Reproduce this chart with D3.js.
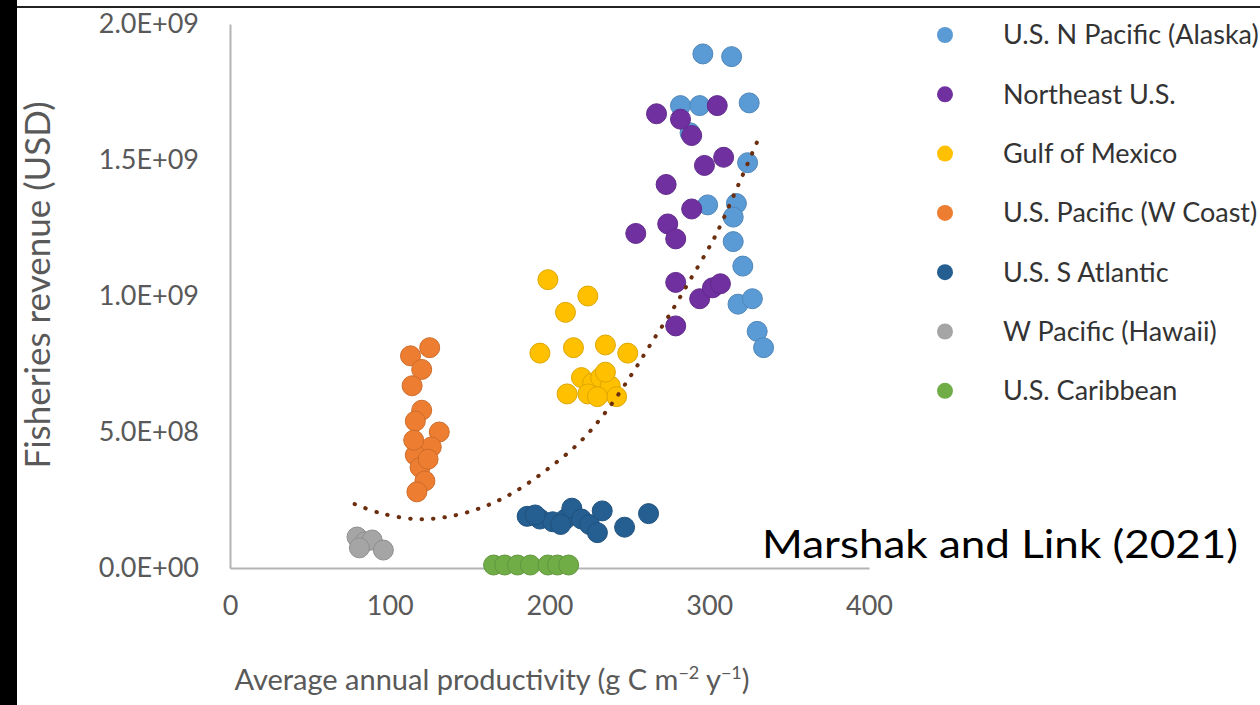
<!DOCTYPE html>
<html>
<head>
<meta charset="utf-8">
<script src="https://cdn.jsdelivr.net/npm/d3@7"></script>
<style>
  html, body { margin: 0; padding: 0; background: #fff; overflow: hidden; }
  svg { display: block; font-family: Lato, "Open Sans", sans-serif; }
</style>
</head>
<body>
<svg id="chart" width="1260" height="705"></svg>
<script>
// region names + colours (legend order)
var regions = ["U.S. N Pacific (Alaska)", "Northeast U.S.", "Gulf of Mexico",
               "U.S. Pacific (W Coast)", "U.S. S Atlantic", "W Pacific (Hawaii)", "U.S. Caribbean"];
var colors = ["#5b9bd5", "#7030a0", "#ffc000", "#ed7d31", "#255e91", "#a5a5a5", "#70ad47"];

// productivity (g C m-2 y-1) and revenue (1e9 USD)
var alaskaX = [296, 314, 282, 294, 325, 288, 324, 299, 317, 315, 315, 321, 318, 327, 330, 334];
var alaskaY = [1.89, 1.88, 1.70, 1.70, 1.71, 1.60, 1.49, 1.335, 1.34, 1.29, 1.20, 1.11, 0.97, 0.99, 0.87, 0.81];
var northeastX = [267, 282, 289, 305, 309, 297, 273, 289, 254, 274, 279, 279, 294, 302, 307, 279];
var northeastY = [1.67, 1.65, 1.59, 1.70, 1.51, 1.48, 1.41, 1.32, 1.23, 1.265, 1.21, 1.05, 0.99, 1.03, 1.045, 0.89];
var gulfX = [199, 224, 210, 194, 215, 235, 249, 211, 220, 227, 232, 238, 242, 224, 235, 230];
var gulfY = [1.06, 1.00, 0.94, 0.79, 0.81, 0.82, 0.79, 0.64, 0.70, 0.68, 0.70, 0.67, 0.63, 0.64, 0.72, 0.63];
var westCoastX = [125, 113, 120, 114, 120, 116, 131, 126, 116, 119, 122, 117, 115, 124];
var westCoastY = [0.81, 0.78, 0.73, 0.67, 0.58, 0.54, 0.50, 0.445, 0.415, 0.37, 0.32, 0.28, 0.47, 0.40];
var sAtlanticX = [186, 194, 202, 210, 214, 220, 225, 230, 233, 247, 262, 191, 207];
var sAtlanticY = [0.19, 0.18, 0.17, 0.18, 0.22, 0.18, 0.16, 0.13, 0.21, 0.15, 0.20, 0.195, 0.16];
var hawaiiX = [79.5, 84.5, 89, 96, 81];
var hawaiiY = [0.114, 0.096, 0.103, 0.066, 0.074];
var caribbeanX = [165, 172, 180, 188, 199, 205, 212];
var caribbeanY = [0.011, 0.011, 0.011, 0.011, 0.011, 0.011, 0.011];

// dotted polynomial trend line
var trendX = [78, 94, 116, 136, 157, 177, 198, 219, 236, 252, 263, 277, 288, 299, 305, 319, 330.5];
var trendY = [0.235, 0.202, 0.18, 0.188, 0.221, 0.276, 0.36, 0.463, 0.58, 0.717, 0.82, 0.949, 1.059, 1.169, 1.235, 1.419, 1.574];

var xTicks = [0, 100, 200, 300, 400];
var yTicks = [0, 0.5, 1.0, 1.5, 2.0];

var seriesX = [alaskaX, northeastX, gulfX, westCoastX, sAtlanticX, hawaiiX, caribbeanX];
var seriesY = [alaskaY, northeastY, gulfY, westCoastY, sAtlanticY, hawaiiY, caribbeanY];

var svg = d3.select("#chart");

// page frame: black bar on the left, line on top
svg.append("rect").attr("x", 0).attr("y", 0).attr("width", 17).attr("height", 705).attr("fill", "#000");
svg.append("rect").attr("x", 17).attr("y", 6).attr("width", 1243).attr("height", 2).attr("fill", "#222");

var x = d3.scaleLinear().domain([0, 400]).range([230, 869]);
var y = d3.scaleLinear().domain([0, 2.0]).range([568, 24]);

function sci(v) {
  var n = v * 1e9;
  if (n == 0) { return "0.0E+00"; }
  var e = Math.floor(Math.log10(n));
  var m = n / Math.pow(10, e);
  return m.toFixed(1) + "E+" + String(e).padStart(2, "0");
}

var yAxis = svg.append("g").attr("transform", "translate(230,0)")
  .call(d3.axisLeft(y).tickValues(yTicks).tickFormat(sci).tickSize(0).tickPadding(31));
var xAxis = svg.append("g").attr("transform", "translate(0,568)")
  .call(d3.axisBottom(x).tickValues(xTicks).tickFormat(d3.format("d")).tickSize(0).tickPadding(28));

[yAxis, xAxis].forEach(function (a) {
  a.select(".domain").attr("stroke", "#b4b4b4").attr("stroke-width", 2);
  a.selectAll("text").attr("font-family", "Lato, sans-serif").attr("font-size", 27).attr("fill", "#595959");
});

// axis titles
svg.append("text")
  .attr("transform", "translate(50,285) rotate(-90)")
  .attr("text-anchor", "middle")
  .attr("font-size", 35).attr("fill", "#595959")
  .text("Fisheries revenue (USD)");

var xt = svg.append("text")
  .attr("x", 492).attr("y", 690)
  .attr("text-anchor", "middle")
  .attr("font-size", 29).attr("fill", "#595959");
xt.append("tspan").text("Average annual productivity (g C m");
xt.append("tspan").attr("dy", -11).attr("font-size", 18).text("\u22122");
xt.append("tspan").attr("dy", 11).text(" y");
xt.append("tspan").attr("dy", -11).attr("font-size", 18).text("\u22121");
xt.append("tspan").attr("dy", 11).text(")");

// scatter points
var pts = svg.append("g");
seriesX.forEach(function (xs, i) {
  var rows = xs.map(function (v, j) { return [v, seriesY[i][j]]; });
  pts.append("g").selectAll("circle").data(rows).enter().append("circle")
    .attr("cx", function (d) { return x(d[0]); })
    .attr("cy", function (d) { return y(d[1]); })
    .attr("r", 10)
    .attr("fill", colors[i])
    .attr("stroke", d3.color(colors[i]).darker(0.4))
    .attr("stroke-width", 1);
});

// trend line
var trendRows = trendX.map(function (v, j) { return [v, trendY[j]]; });
svg.append("path")
  .datum(trendRows)
  .attr("d", d3.line().x(function (d) { return x(d[0]); }).y(function (d) { return y(d[1]); }).curve(d3.curveCatmullRom))
  .attr("fill", "none")
  .attr("stroke", "#6b2f10")
  .attr("stroke-width", 4)
  .attr("stroke-linecap", "round")
  .attr("stroke-dasharray", "0.5,11");

// legend
var legend = svg.append("g").selectAll("g").data(regions).enter().append("g")
  .attr("transform", function (d, i) { return "translate(945," + (35 + i * 59.3) + ")"; });
legend.append("circle").attr("r", 8).attr("fill", function (d, i) { return colors[i]; });
legend.append("text")
  .attr("x", 58).attr("dy", "0.35em")
  .attr("font-size", 27).attr("fill", "#333")
  .text(function (d) { return d; });

// source note
svg.append("text")
  .attr("x", 762).attr("y", 558)
  .attr("font-size", 39).attr("fill", "#000")
  .attr("textLength", 476).attr("lengthAdjust", "spacingAndGlyphs")
  .text("Marshak and Link (2021)");
</script>
</body>
</html>
